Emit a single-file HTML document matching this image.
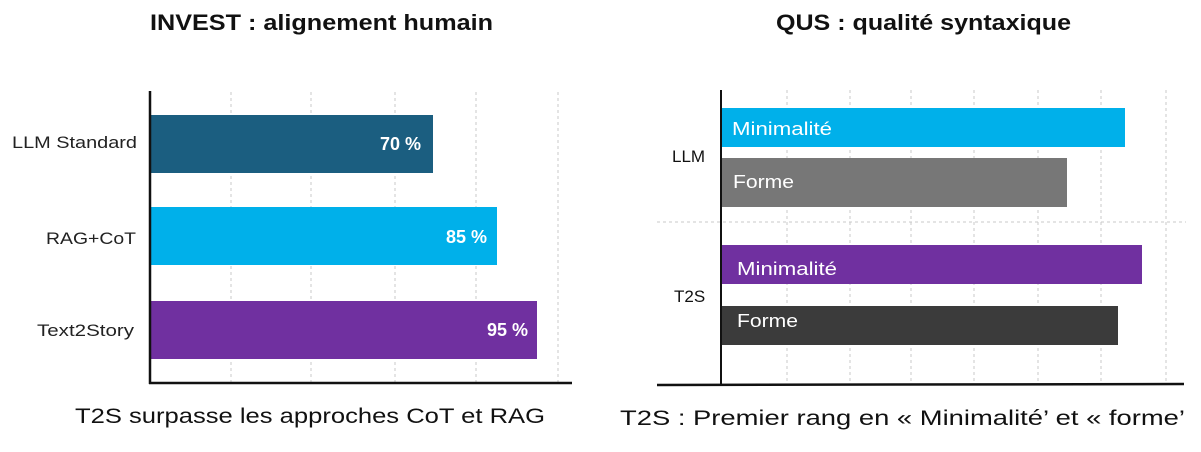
<!DOCTYPE html>
<html><head><meta charset="utf-8"><style>
body{margin:0;background:#fff;}
svg text{font-family:"Liberation Sans",sans-serif;}
</style></head><body>
<svg width="1201" height="447" viewBox="0 0 1201 447" xmlns="http://www.w3.org/2000/svg">
<rect width="1201" height="447" fill="#fff"/>
<text x="150" y="30" font-size="22" font-weight="bold" fill="#111" textLength="343" lengthAdjust="spacingAndGlyphs">INVEST : alignement humain</text>
<text x="776" y="30" font-size="22" font-weight="bold" fill="#111" textLength="295" lengthAdjust="spacingAndGlyphs">QUS : qualité syntaxique</text>
<!-- left grid -->
<g stroke="#c8c8c8" stroke-dasharray="3,3" stroke-width="1">
<line x1="231" y1="92" x2="231" y2="383"/><line x1="311" y1="92" x2="311" y2="383"/>
<line x1="395" y1="92" x2="395" y2="383"/><line x1="476" y1="92" x2="476" y2="383"/>
<line x1="558" y1="92" x2="558" y2="383"/>
</g>
<rect x="150" y="115" width="283" height="58" fill="#1b5e80"/>
<rect x="150" y="207" width="347" height="58" fill="#00b0ea"/>
<rect x="150" y="301" width="387" height="58" fill="#7030a0"/>
<line x1="150" y1="91" x2="150" y2="384" stroke="#111" stroke-width="2.5"/>
<line x1="149" y1="383" x2="572" y2="383" stroke="#111" stroke-width="2.5"/>
<g font-size="17" fill="#222">
<text x="12" y="148" textLength="125" lengthAdjust="spacingAndGlyphs">LLM Standard</text>
<text x="46" y="244" textLength="90" lengthAdjust="spacingAndGlyphs">RAG+CoT</text>
<text x="37" y="336" textLength="97" lengthAdjust="spacingAndGlyphs">Text2Story</text>
</g>
<g font-size="18" font-weight="bold" fill="#fff" text-anchor="end">
<text x="421" y="150">70 %</text><text x="487" y="243">85 %</text><text x="528" y="336">95 %</text>
</g>
<text x="75" y="423" font-size="21" fill="#111" textLength="470" lengthAdjust="spacingAndGlyphs">T2S surpasse les approches CoT et RAG</text>
<!-- right grid -->
<g stroke="#c8c8c8" stroke-dasharray="3,3" stroke-width="1">
<line x1="787" y1="90" x2="787" y2="385"/><line x1="850" y1="90" x2="850" y2="385"/>
<line x1="911" y1="90" x2="911" y2="385"/><line x1="974" y1="90" x2="974" y2="385"/>
<line x1="1038" y1="90" x2="1038" y2="385"/><line x1="1101" y1="90" x2="1101" y2="385"/>
<line x1="1166" y1="90" x2="1166" y2="385"/>
<line x1="657" y1="222" x2="1186" y2="222"/>
</g>
<rect x="721" y="108" width="404" height="39" fill="#00b0ea"/>
<rect x="721" y="158" width="346" height="49" fill="#777"/>
<rect x="721" y="245" width="421" height="39" fill="#7030a0"/>
<rect x="721" y="306" width="397" height="39" fill="#3b3b3b"/>
<line x1="721" y1="90" x2="721" y2="385" stroke="#111" stroke-width="2"/>
<line x1="657" y1="385" x2="1184" y2="384" stroke="#111" stroke-width="2.5"/>
<g font-size="17" fill="#111"><text x="672" y="162">LLM</text><text x="674" y="302">T2S</text></g>
<g font-size="18" fill="#fff">
<text x="732" y="135" textLength="100" lengthAdjust="spacingAndGlyphs">Minimalité</text>
<text x="733" y="188" textLength="61" lengthAdjust="spacingAndGlyphs">Forme</text>
<text x="737" y="275" textLength="100" lengthAdjust="spacingAndGlyphs">Minimalité</text>
<text x="737" y="327" textLength="61" lengthAdjust="spacingAndGlyphs">Forme</text>
</g>
<text x="620" y="425" font-size="21" fill="#111" textLength="565" lengthAdjust="spacingAndGlyphs">T2S : Premier rang en « Minimalité’ et « forme’</text>
</svg>
</body></html>
